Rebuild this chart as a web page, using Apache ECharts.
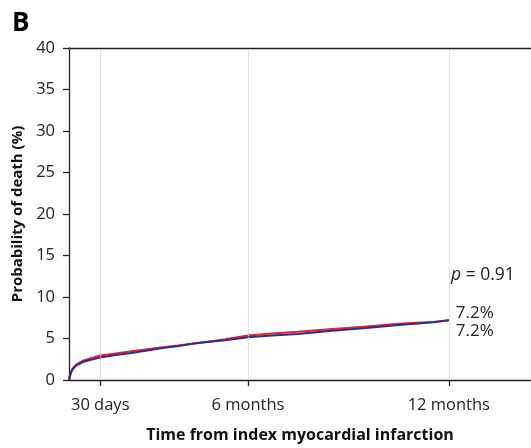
<!DOCTYPE html>
<html><head><meta charset="utf-8">
<script src="https://cdn.jsdelivr.net/npm/echarts@6/dist/echarts.min.js"></script>
<style>html,body{margin:0;padding:0;background:#fff}#c{width:531px;height:448px}</style>
</head><body><div id="c"></div>
<script>
const days = [0,1,2,3,5,7,10,14,20,30,45,60,75,90,105,120,135,150,172,195,220,250,280,320,350,365];
const redSeries = [0,0.6,1.0,1.3,1.6,1.85,2.1,2.35,2.6,2.95,3.2,3.45,3.7,3.95,4.15,4.4,4.65,4.9,5.35,5.6,5.8,6.1,6.4,6.8,7.0,7.2];
const blueSeries = [0,0.5,0.9,1.2,1.5,1.75,1.95,2.2,2.4,2.7,3.0,3.25,3.55,3.85,4.1,4.4,4.6,4.8,5.15,5.35,5.55,5.9,6.2,6.65,6.95,7.2];
const tickDays = [30,172,365];
const tickLabels = ['30 days','6 months','12 months'];
const endLabels = ['7.2%','7.2%'];

const F = "'Open Sans', 'Noto Sans', sans-serif";
const chart = echarts.init(document.getElementById('c'), null, {renderer:'canvas'});
const lbl = {};
tickDays.forEach((d,i)=>lbl[d]=tickLabels[i]);
chart.setOption({
  animation:false,
  grid:{left:69,top:48,right:0,bottom:67},
  xAxis:[{
    type:'value',min:0,max:444,
    axisLine:{show:true,lineStyle:{color:'#222',width:1.3}},
    axisTick:{show:true,customValues:tickDays,length:6,lineStyle:{color:'#222',width:1.3}},
    axisLabel:{customValues:tickDays,formatter:v=>lbl[v]||'',fontSize:16.5,color:'#222',margin:17,fontFamily:F},
    splitLine:{show:false},
    name:'Time from index myocardial infarction',nameLocation:'middle',nameGap:47,
    nameTextStyle:{fontSize:16,fontWeight:'bold',color:'#111',fontFamily:F}
  },{
    type:'value',position:'top',min:0,max:444,
    axisLine:{show:true,lineStyle:{color:'#222',width:1.3}},
    axisTick:{show:false},axisLabel:{show:false},splitLine:{show:false}
  }],
  yAxis:{
    type:'value',min:0,max:40,interval:5,
    axisLine:{show:true,lineStyle:{color:'#222',width:1.3}},
    axisTick:{show:true,length:6,lineStyle:{color:'#222',width:1.3}},
    axisLabel:{fontSize:16.5,color:'#222',margin:14,fontFamily:F},
    splitLine:{show:false},
    name:'Probability of death (%)',nameLocation:'middle',nameGap:42,
    nameTextStyle:{fontSize:15,fontWeight:'bold',color:'#111',fontFamily:F}
  },
  graphic:[
    {type:'text',left:12,top:11,style:{text:'B',fontSize:26,fontWeight:'bold',fill:'#000',fontFamily:F}},
    {type:'text',left:451,top:266,style:{rich:{i:{fontStyle:'italic',fontSize:17.5,fill:'#222',fontFamily:F},n:{fontSize:17.5,fill:'#222',fontFamily:F}},text:'{i|p}{n| = 0.91}'}}
  ],
  series:[
    {type:'line',name:'red',data:days.map((d,i)=>[d,redSeries[i]]),showSymbol:false,smooth:false,
     lineStyle:{color:'#e8222b',width:2},
     endLabel:{show:true,formatter:endLabels[0],fontSize:17,color:'#222',offset:[-1,-7],fontFamily:F},
     markLine:{silent:true,symbol:'none',label:{show:false},lineStyle:{color:'#c8c8c8',type:'dotted',width:1},data:tickDays.map(d=>({xAxis:d}))}},
    {type:'line',name:'blue',data:days.map((d,i)=>[d,blueSeries[i]]),showSymbol:false,smooth:false,
     lineStyle:{color:'#2b2d96',width:2},
     endLabel:{show:true,formatter:endLabels[1],fontSize:17,color:'#222',offset:[-1,11],fontFamily:F}}
  ]
});
</script></body></html>
